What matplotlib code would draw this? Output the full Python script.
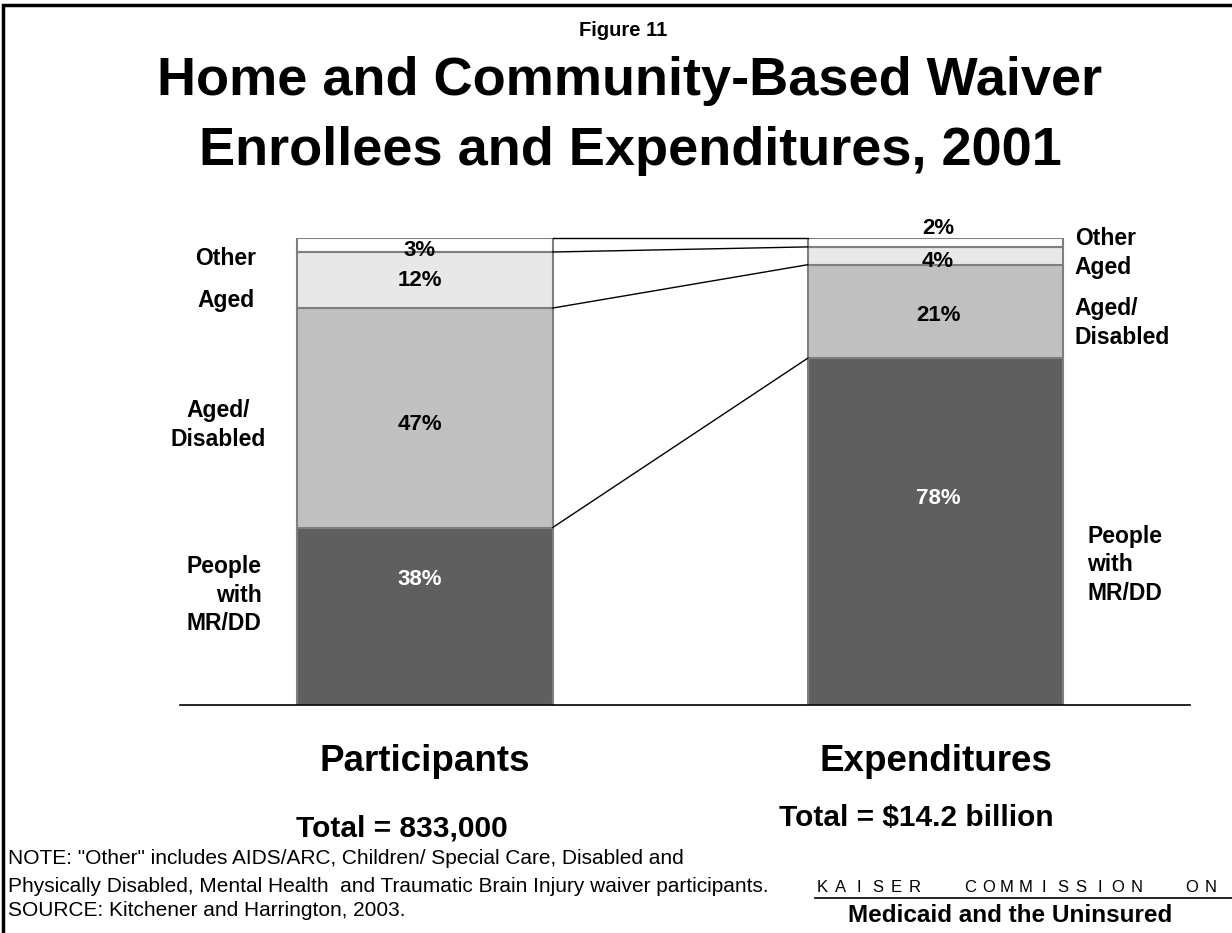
import matplotlib.pyplot as plt
from matplotlib.patches import Rectangle

# data
bars = ['Participants', 'Expenditures']
totals = ['Total = 833,000', 'Total = $14.2 billion']
segments = ['People with MR/DD', 'Aged/Disabled', 'Aged', 'Other']
participants = [38, 47, 12, 3]
expenditures = [78, 21, 4, 2]
left_labels = ['People\nwith\nMR/DD', 'Aged/\nDisabled', 'Aged', 'Other']
right_labels = ['People\nwith\nMR/DD', 'Aged/\nDisabled', 'Aged', 'Other']

colors = ['#5f5f5f', '#c0c0c0', '#e8e8e8', '#ffffff']
text_colors = ['white', 'black', 'black', 'black']

W, H = 1232, 933
fig = plt.figure(figsize=(W / 100, H / 100), dpi=100)
plt.rcParams['font.family'] = ['Liberation Sans', 'DejaVu Sans']

# outer frame
fig.add_artist(Rectangle((3 / W, -0.01), 1.02, (H - 5) / H + 0.01, transform=fig.transFigure,
                         fill=False, edgecolor='black', linewidth=2.5))

ax = fig.add_axes([180 / W, (H - 705) / H, 1010 / W, 467 / H])
ax.set_xlim(-0.48, 1.4985)
ax.set_ylim(0, 100)
for s in ['top', 'left', 'right']:
    ax.spines[s].set_visible(False)
ax.spines['bottom'].set_linewidth(1.2)
ax.set_xticks([])
ax.set_yticks([])
ax.patch.set_alpha(0)

width = 0.5
cums = []
for i, vals in enumerate([participants, expenditures]):
    total = sum(vals)
    norm = [v / total * 100 for v in vals]
    bottom = 0
    cum = [0]
    for j, v in enumerate(norm):
        ax.bar(i, v, width=width, bottom=bottom, color=colors[j],
               edgecolor='#7f7f7f', linewidth=1.5, zorder=2)
        bottom += v
        cum.append(bottom)
    cums.append(cum)

# connector lines between bars
for k in range(1, len(segments) + 1):
    ax.plot([width / 2, 1 - width / 2], [cums[0][k], cums[1][k]], color='black',
            linewidth=1, zorder=3, clip_on=False)

# percentage labels
pct_y = [[26.8, 60, 90.8, 97.4], [44.3, 83.5, 94.9, 102]]
for i, vals in enumerate([participants, expenditures]):
    for j, v in enumerate(vals):
        ax.text(i - 0.01 if i == 0 else i + 0.005, pct_y[i][j], f'{v}%', ha='center', va='center',
                fontsize=16, fontweight='bold', color=text_colors[j], zorder=4)

# category labels
left_y = [23.5, 60, 86.7, 95.7]
left_x = [-0.32, -0.405, -0.39, -0.39]
left_ha = ['right', 'center', 'center', 'center']
for lab, y, x, ha in zip(left_labels, left_y, left_x, left_ha):
    ax.text(x, y, lab, ha=ha, va='center', fontsize=16.5, multialignment=ha,
            fontweight='bold', linespacing=1.3)
right_y = [30, 81.8, 93.6, 99.8]
right_x = [1.297, 1.273, 1.273, 1.273]
for lab, y, x in zip(right_labels, right_y, right_x):
    ax.text(x, y, lab, ha='left', va='center', fontsize=16.5,
            fontweight='bold', linespacing=1.3)

# bar names and totals
for i, name in enumerate(bars):
    ax.text(i, -12, name, ha='center', va='center', fontsize=26.5, fontweight='bold')
ax.text(-0.045, -26.4, totals[0], ha='center', va='center', fontsize=21.5, fontweight='bold')
ax.text(0.963, -24.1, totals[1], ha='center', va='center', fontsize=21.5, fontweight='bold')

# titles
fig.text(623 / W, 1 - 30 / H, 'Figure 11', ha='center', va='center', fontsize=14.5,
         fontweight='bold')
fig.text(630 / W, 1 - 81 / H, 'Home and Community-Based Waiver', ha='center', va='center',
         fontsize=39, fontweight='bold')
fig.text(630 / W, 1 - 151 / H, 'Enrollees and Expenditures, 2001', ha='center', va='center',
         fontsize=39, fontweight='bold')

# notes
notes = ['NOTE: "Other" includes AIDS/ARC, Children/ Special Care, Disabled and',
         'Physically Disabled, Mental Health  and Traumatic Brain Injury waiver participants.',
         'SOURCE: Kitchener and Harrington, 2003.']
for txt, y in zip(notes, [858, 886, 910]):
    fig.text(8 / W, 1 - y / H, txt, ha='left', va='center', fontsize=15)

# spaced-out logo line
logo = 'KAISER  COMMISSION  ON'
x0 = 822
for ch in logo:
    if ch != ' ':
        fig.text(x0 / W, 1 - 888 / H, ch, ha='center', va='center', fontsize=12)
    x0 += 18.5
fig.add_artist(plt.Line2D([815 / W, 1.0], [1 - 898 / H, 1 - 898 / H], transform=fig.transFigure,
                          color='black', linewidth=1.2))
fig.text(1010 / W, 1 - 916 / H, 'Medicaid and the Uninsured', ha='center', va='center',
         fontsize=17.5, fontweight='bold')

fig.savefig('out.png', dpi=100)
